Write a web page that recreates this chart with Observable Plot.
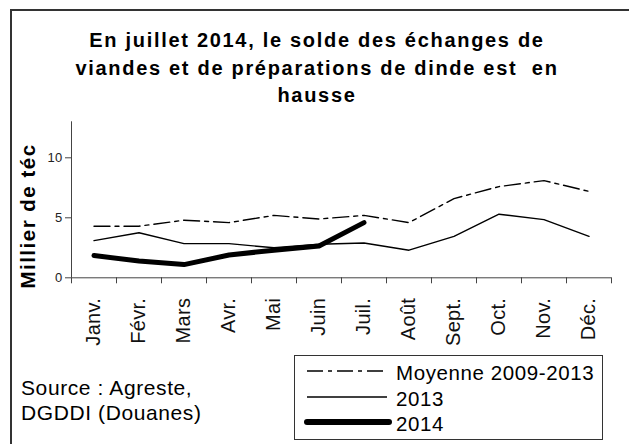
<!DOCTYPE html>
<html>
<head>
<meta charset="utf-8">
<script src="https://cdn.jsdelivr.net/npm/d3@7"></script>
<script src="https://cdn.jsdelivr.net/npm/@observablehq/plot@0.6"></script>
<style>
  html, body { margin: 0; padding: 0; background: #fff; }
  #wrap { position: relative; width: 629px; height: 444px; overflow: hidden; font-family: "Liberation Sans", Arial, sans-serif; }
  #frame { position: absolute; left: 10px; top: 9px; width: 700px; height: 500px; border: 2px solid #333; box-sizing: border-box; }
  .title { position: absolute; left: 0; width: 634px; text-align: center; font-weight: bold; font-size: 20px; letter-spacing: 1.7px; white-space: pre; color: #000; line-height: 1; }
  #ylab { position: absolute; left: 28px; top: 216px; transform: translate(-50%, -50%) rotate(-90deg); font-weight: bold; font-size: 20.5px; letter-spacing: 1.5px; white-space: pre; }
  #source { position: absolute; left: 21px; top: 375px; font-size: 21px; letter-spacing: 0.6px; line-height: 25px; }
  #legend { position: absolute; left: 294px; top: 355px; width: 309px; height: 85px; border: 1px solid #333; box-sizing: border-box; }
  .lt { position: absolute; left: 101px; font-size: 20.5px; letter-spacing: 0.6px; line-height: 1; white-space: pre; }
  #plot { position: absolute; left: 0; top: 0; }
</style>
</head>
<body>
<div id="wrap">
  <div id="frame"></div>
  <div id="plot"></div>
</div>
<script>
const titleLines = ["En juillet 2014, le solde des échanges de", "viandes et de préparations de dinde est  en", "hausse"];
const yLabel = "Millier de téc";
const months = ["Janv.", "Févr.", "Mars", "Avr.", "Mai", "Juin", "Juil.", "Août", "Sept.", "Oct.", "Nov.", "Déc."];
const moyenne = [4.3, 4.3, 4.8, 4.6, 5.2, 4.9, 5.2, 4.6, 6.6, 7.6, 8.1, 7.2];
const y2013 = [3.1, 3.75, 2.85, 2.85, 2.5, 2.8, 2.9, 2.3, 3.45, 5.3, 4.85, 3.45];
const y2014 = [1.85, 1.4, 1.1, 1.9, 2.3, 2.65, 4.6];
const yTicks = [0, 5, 10];
const seriesNames = ["Moyenne 2009-2013", "2013", "2014"];
const sourceLines = ["Source : Agreste,", "DGDDI (Douanes)"];

const wrap = document.getElementById("wrap");
const baselines = [46, 73.5, 101];
titleLines.forEach((t, i) => {
  const d = document.createElement("div");
  d.className = "title";
  d.textContent = t;
  d.style.top = (baselines[i] - 16) + "px";
  wrap.appendChild(d);
});
const yl = document.createElement("div");
yl.id = "ylab"; yl.textContent = yLabel; wrap.appendChild(yl);
const src = document.createElement("div");
src.id = "source"; src.innerHTML = sourceLines.join("<br>"); wrap.appendChild(src);

const styles = [
  {stroke: "#000", strokeWidth: 1.4, dash: "16,5,4,5"},
  {stroke: "#000", strokeWidth: 1.4, dash: null},
  {stroke: "#000", strokeWidth: 5, dash: null}
];

const toRows = (arr) => arr.map((v, i) => ({x: i + 0.5, y: v}));

const chart = Plot.plot({
  width: 629,
  height: 444,
  marginLeft: 71,
  marginRight: 18,
  marginTop: 121.3,
  marginBottom: 166.7,
  style: {fontFamily: "Liberation Sans, Arial, sans-serif", background: "transparent", overflow: "visible"},
  x: {type: "linear", domain: [0, months.length]},
  y: {domain: [0, 13]},
  marks: [
    Plot.axisY({ticks: yTicks, tickSize: 6, tickPadding: 3, fontSize: 13, label: null, stroke: "#444", color: "#222"}),
    Plot.axisX({ticks: d3.range(months.length + 1), tickSize: 6, tickFormat: () => "", label: null, stroke: "#444"}),
    Plot.axisX({ticks: months.map((m, i) => i + 0.5), tickSize: 0, tickPadding: 20, tickRotate: -90, tickFormat: d => months[Math.floor(d)], fontSize: 20, label: null, color: "#111"}),
    Plot.ruleX([0], {stroke: "#444"}),
    Plot.ruleY([0], {stroke: "#444"}),
    Plot.line(toRows(moyenne), {x: "x", y: "y", stroke: styles[0].stroke, strokeWidth: styles[0].strokeWidth, strokeDasharray: styles[0].dash}),
    Plot.line(toRows(y2013), {x: "x", y: "y", stroke: styles[1].stroke, strokeWidth: styles[1].strokeWidth}),
    Plot.line(toRows(y2014), {x: "x", y: "y", stroke: styles[2].stroke, strokeWidth: styles[2].strokeWidth, strokeLinecap: "round", strokeLinejoin: "round"})
  ]
});
chart.querySelectorAll("text").forEach(t => t.style.letterSpacing = "0.3px");
document.getElementById("plot").appendChild(chart);

// Legend
const leg = document.createElement("div");
leg.id = "legend";
const rowsY = [16, 42, 67];
const svgNS = "http://www.w3.org/2000/svg";
const lsvg = document.createElementNS(svgNS, "svg");
lsvg.setAttribute("width", 309); lsvg.setAttribute("height", 85);
lsvg.style.position = "absolute"; lsvg.style.left = "-1px"; lsvg.style.top = "-1px";
seriesNames.forEach((name, i) => {
  const ln = document.createElementNS(svgNS, "line");
  ln.setAttribute("x1", 13); ln.setAttribute("x2", i === 2 ? 95 : 93);
  ln.setAttribute("y1", rowsY[i]); ln.setAttribute("y2", rowsY[i]);
  ln.setAttribute("stroke", styles[i].stroke);
  ln.setAttribute("stroke-width", i === 2 ? 6 : styles[i].strokeWidth);
  if (styles[i].dash) ln.setAttribute("stroke-dasharray", styles[i].dash);
  if (i === 2) ln.setAttribute("stroke-linecap", "round");
  lsvg.appendChild(ln);
  const t = document.createElement("div");
  t.className = "lt";
  t.textContent = name;
  t.style.top = (rowsY[i] - 9) + "px";
  leg.appendChild(t);
});
leg.appendChild(lsvg);
wrap.appendChild(leg);
</script>
</body>
</html>
